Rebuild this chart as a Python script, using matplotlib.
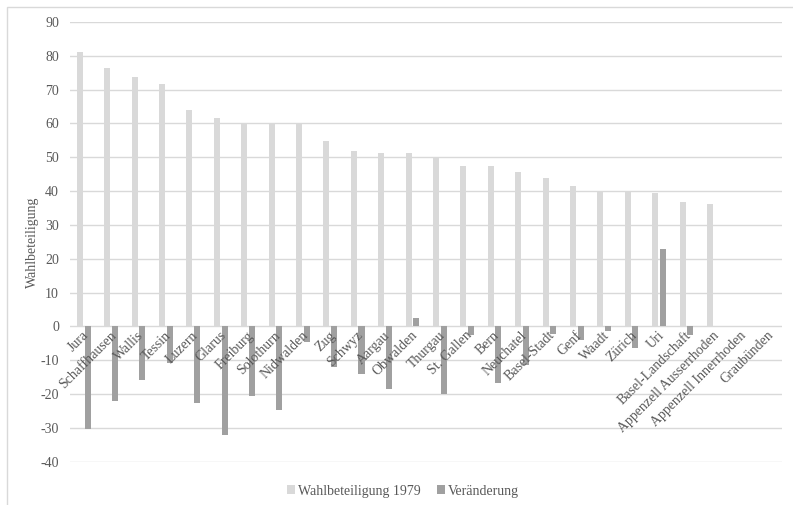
import numpy as np
import matplotlib
matplotlib.use("Agg")
import matplotlib.pyplot as plt
from matplotlib.patches import Patch, Rectangle
from matplotlib.transforms import ScaledTranslation

plt.rcParams["font.family"] = ["Liberation Serif", "DejaVu Serif"]

cantons = [
    "Jura", "Schaffhausen", "Wallis", "Tessin", "Luzern", "Glarus", "Freiburg",
    "Solothurn", "Nidwalden", "Zug", "Schwyz", "Aargau", "Obwalden", "Thurgau",
    "St. Gallen", "Bern", "Neuchatel", "Basel-Stadt", "Genf", "Waadt", "Zürich",
    "Uri", "Basel-Landschaft", "Appenzell Ausserrhoden", "Appenzell Innerrhoden",
    "Graubünden",
]
turnout_1979 = [
    81.2, 76.3, 73.6, 71.6, 64.1, 61.5, 60.1, 60.0, 59.7, 54.7, 51.9, 51.3,
    51.3, 50.2, 47.5, 47.3, 45.7, 44.0, 41.6, 39.9, 39.9, 39.3, 36.7, 36.1,
    np.nan, np.nan,
]
change = [
    -30.3, -22.1, -15.8, -10.8, -22.6, -32.0, -20.7, -24.6, -4.6, -12.0,
    -14.0, -18.4, 2.4, -20.0, -2.4, -16.6, -11.5, -2.3, -4.0, -1.4, -6.5,
    22.8, -2.6, np.nan, np.nan, np.nan,
]
y_ticks = list(range(-40, 91, 10))

LIGHT = "#d9d9d9"
DARK = "#a0a0a0"
GRID = "#d9d9d9"
TEXT = "#595959"

W, H = 793, 505
fig = plt.figure(figsize=(W / 100, H / 100), dpi=100)

# light chart-area frame
fig.patches.append(Rectangle((7 / W, -0.1), 1.2, 1 - 7 / H + 0.1,
                             transform=fig.transFigure, fill=False,
                             edgecolor=GRID, linewidth=1.0))

left, right = 70 / W, 782.3 / W
top, bottom = 1 - 22 / H, 1 - 461.7 / H
ax = fig.add_axes([left, bottom, right - left, top - bottom])

x = np.arange(len(cantons))
bw = 0.22
off = 0.14
ax.bar(x - off, turnout_1979, width=bw, color=LIGHT, zorder=2)
ax.bar(x + off, change, width=bw, color=DARK, zorder=3)

ax.set_xlim(-0.5, len(cantons) - 0.5)
ax.set_ylim(-40, 90)
ax.set_yticks(y_ticks)
ax.set_yticklabels([str(v) for v in y_ticks])
ax.tick_params(axis="y", length=0, pad=8, labelsize=10, labelcolor=TEXT)
ax.set_xticks([])
for s in ax.spines.values():
    s.set_visible(False)
ax.grid(axis="y", color=GRID, linewidth=1.0, zorder=0)
ax.set_axisbelow(True)

# category labels hanging below the zero line
for i, name in enumerate(cantons):
    tr = ax.transData + ScaledTranslation(3 / 100, -7 / 100, fig.dpi_scale_trans)
    ax.text(i, 0, name, transform=tr, rotation=45, rotation_mode="anchor",
            ha="right", va="center", fontsize=10, color=TEXT, zorder=4)

fig.text(32 / W, 1 - 242 / H, "Wahlbeteiligung", rotation=90, ha="center",
         va="center", fontsize=10, color=TEXT)

handles = [Patch(facecolor=LIGHT, edgecolor="none"),
           Patch(facecolor=DARK, edgecolor="none")]
leg = fig.legend(handles, ["Wahlbeteiligung 1979", "Veränderung"], ncol=2,
                 loc="center", bbox_to_anchor=(403 / W, 1 - 491 / H),
                 frameon=False, fontsize=10, handlelength=0.55,
                 handleheight=0.55, handletextpad=0.2, columnspacing=1.2)
for t in leg.get_texts():
    t.set_color(TEXT)

fig.savefig("out.png", dpi=100)
